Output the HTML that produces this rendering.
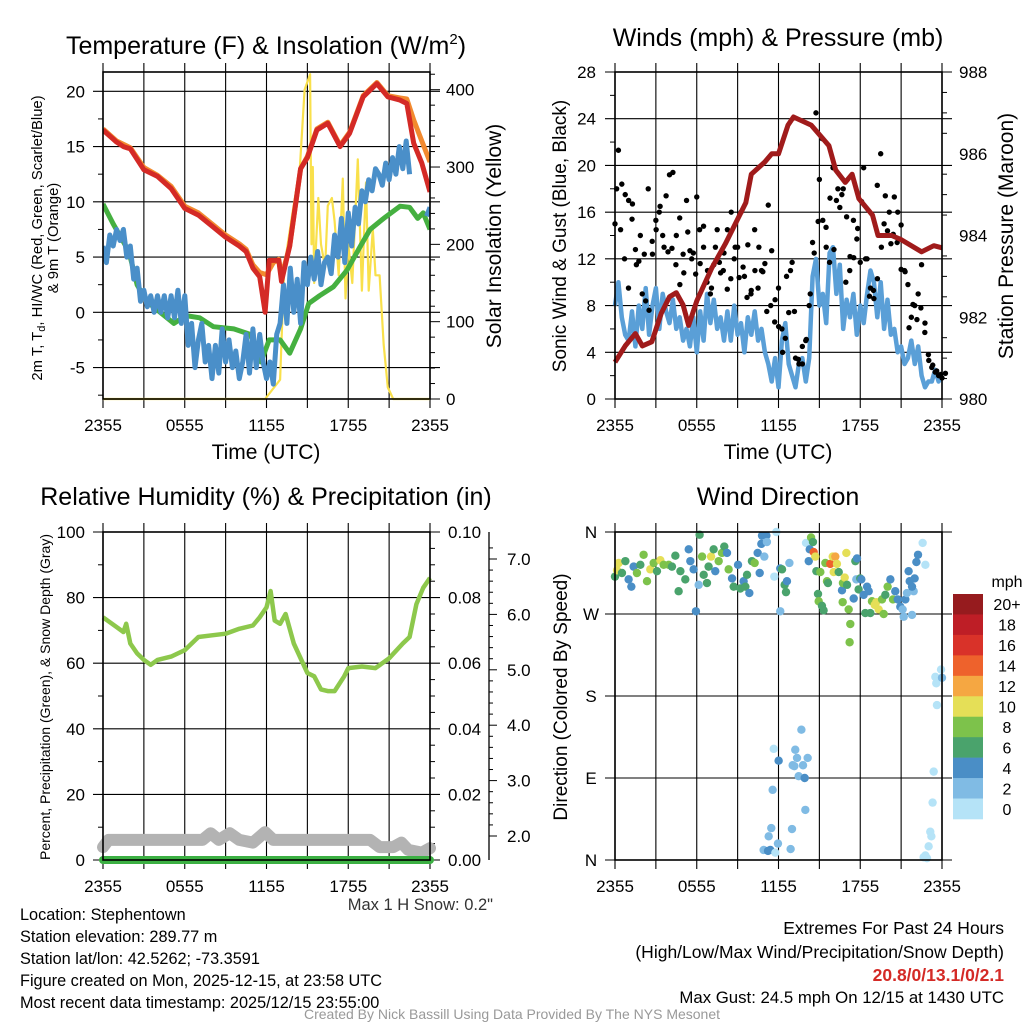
<!DOCTYPE html>
<html><head><meta charset="utf-8"><style>
html,body{margin:0;padding:0;background:#fff;}
svg text{font-family:"Liberation Sans",Arial,sans-serif;}
</style></head><body>
<svg id="chart" xmlns="http://www.w3.org/2000/svg" width="1024" height="1024" viewBox="0 0 1024 1024">
<rect x="0" y="0" width="1024" height="1024" fill="#fff"/>
<g id="layer"></g>
</svg>
<script>
// ===== DATA =====
const timeLabels = ["2355","0555","1155","1755","2355"];
// Panel 1: temperature
const redTimes = [0,1,1.5,2,3,4,5,6,7,8,9,10,10.5,11,11.5,11.8,11.9,12.2,12.9,13.1,13.7,14.5,15,15.7,16.5,17.4,18.1,19.1,20.1,20.9,21.8,22.3,22.8,23.4,24];
const redTemps = [16.5,15.4,15,14.8,12.9,12.3,11.2,9.4,8.8,7.8,6.8,6,5.5,4,3.2,0.8,0,4.7,4.7,2.8,6,13,14,16.5,17.1,15,16.2,19.5,20.7,19.5,19.2,18.9,15.3,13.5,10.9];
const orangeTimes = [0,1,2,3,4,5,6,7,8,9,10,10.5,11,11.5,12,12.5,12.9,13.1,13.7,14.5,15,15.7,16.5,17.4,18.1,19.1,20.1,20.9,21.8,22.3,22.8,23.4,24];
const orangeTemps = [16.6,15.5,14.9,13.1,12.4,11.4,9.6,9,8,7,6.2,5.7,4.3,3.6,3.4,4.5,4.8,3.2,6,13,14.1,16.6,17.2,15.1,16.3,19.6,20.8,19.6,19.4,19.3,17.4,15.5,13.6];
const greenTimes = [0,0.75,1.9,2.5,3.2,5.2,6.1,7.1,8.1,9.6,10.8,11.6,12.2,13,13.7,14.5,15.1,15.9,16.9,17.9,18.9,19.6,20.6,21.8,22.5,23.1,23.5,24];
const greenTemps = [9.8,8,5.5,2.5,1,-1,-0.3,-0.5,-1.3,-1.5,-2,-4.5,-2.5,-2.5,-3.7,-1.5,0.8,1.5,2.3,3.8,6,7.5,8.5,9.6,9.5,8.5,9,7.5];
const blueTemps = [6,4.5,7,6,7.5,6.5,7.5,5,6,3,4,1,2,0.5,1.5,0,1.5,0,1.5,-0.5,1.5,-0.5,2,-1,1.5,-3,-1,-5,-2.5,-1,-4.5,-3,-6,-3,-5.5,-1.5,-4.5,-2.5,-5,-3.5,-6,-4.5,-2,-5.5,-1.5,-5,-2,-4.5,-6,-4.5,-6.5,-2,-1,2.5,-1,4,0,3,-1,4.5,2.5,5,3,5.5,2.5,4.5,5,3.5,7,5,8.5,4.5,9,6,9.5,8,11,10,12,11,13,12.5,11.5,13.5,12,14,12.5,15,13,15.5,12.5,null,null,null,null,8.7,9.5];
const solarTimes = [0,11.9,13,13.3,13.9,14.45,14.8,15.2,15.3,15.4,15.5,15.8,16,16.3,16.5,16.8,17,17.3,17.6,17.8,18,18.3,18.7,19,19.3,19.5,19.8,20,20.3,20.6,20.9,21.3,24];
const solarValues = [0,0,25,170,240,300,400,420,200,300,150,260,200,170,250,260,230,160,285,130,200,150,310,140,280,140,220,160,160,70,15,0,0];
// Panel 2: winds & pressure
const pressTimes = [0,0.75,1.5,2,2.7,3.4,4,4.5,5,5.4,6,7.1,8.1,9.6,10,11,11.5,12,12.7,13.1,14.4,15.7,16.2,16.9,17.4,17.9,18.9,19.3,20.3,21,22.5,23.4,24];
const pressValues = [980.9,981.3,981.6,981.3,981.4,982.1,982.5,982.6,982.3,981.8,982.4,983.2,983.8,984.8,985.5,985.8,986,986,986.7,986.9,986.7,986.2,985.6,985.3,985.5,984.9,984.5,984,984,983.9,983.6,983.75,983.7];
const windValues = [8,10,7,5.5,5,7.5,4.5,8,6,9.5,5.5,8,9.5,6,9,7.5,6.5,8.5,6,7,5,6,4.5,7,4,7.5,5,9,6.5,8.5,6,7,5,7.5,5,8,5.5,6.5,4,7,5.5,7.5,5,6,4,3,1.5,3.5,1,5,6.5,3,2,1,3,3.5,1.5,3.5,10.5,12,8,9,6.5,12.5,13,9,11.5,6,8.5,7,9,5.5,8,6.5,9,11,10,7,10,6,8.5,5.5,6,4,4.5,3,3.5,5,3,4.5,2,1,1.5,1.5,2.5,1.5,2];
const gustValues = [15,21.3,18.4,17.5,17,15.4,12.8,11.8,9,8.4,7.6,12.4,15.3,16,14,17.4,19.2,19.4,14,15.5,12.4,17,12.7,12.5,17.3,11.6,14.8,10,9,11.5,14.5,10.8,12.5,14.5,10.3,12,13,16,10.5,13.2,9.3,14.5,9.5,11,11.6,16.6,12.7,8.5,9.5,6,5.2,7.4,11.7,3.5,3,3,5,8,13.4,24.5,18.8,15.3,13,11.7,19.8,17,16.4,18,15.6,12.2,15.3,13.7,11.7,19.8,12,9.5,8.6,18.3,21,15,14.4,13.3,17.3,16,14.9,11,9.8,7,8,9,11.5,6.5,3.8,2.7,2.3,2,1.8,2.2];
const gustValues2 = [18,14.5,12,9.5,16.7,11.5,14,12.4,18,13.5,14.5,16.5,13,12.6,12.9,11.5,9.8,10.8,14.3,12,10.7,14.5,13,11,9.5,13,11.7,11,9.4,16,13,10.4,11.3,8.7,9,11,13,10.9,7.5,8,6.6,6.2,4,10.5,11,7.5,3.4,4.5,5.1,9,12.5,15.2,22.3,14.7,17.2,12.8,18,17.5,10,11,12.1,14.6,16.9,12,8.8,9.3,10.3,13,17.4,16,14.1,13.4,11.1,10.9,6.1,8.1,6.8,7.8,5.7,3.3,2.9,2.4,2.1];
// Panel 3: RH, precip, snow depth
const rhTimes = [0,1,1.5,1.7,2,2.5,3,3.5,4,5,6,7,8,9,10,11,11.5,12,12.3,12.6,13,13.4,14,15,15.5,16,16.5,17,17.7,18,19,20,21,22,22.5,23,23.5,24];
const rhValues = [74,71,69.5,72,66,63,61,59.5,61,62,64,68,68.5,69,70.5,71.5,74,77,82,73,72,75,66,57,56,52,51.5,51.5,56,58.5,59,58.5,61.5,66,68,78,83,86];
const precipValues = [0,0];
const precipTimes = [0,24];
const snowTimes = [0,0.4,7.3,7.9,8.5,9.3,10,11,11.9,12.5,19.6,20.3,21.3,21.9,22.4,23.4,24];
const snowDepth = [1.8,1.93,1.93,2.05,1.93,2.05,1.93,1.88,2.07,1.93,1.93,1.8,1.8,1.88,1.75,1.7,1.78];
// Panel 4: wind direction
const dirTimes = [0,0.15,0.27,0.51,0.76,1.0,1.2,1.37,1.61,1.86,2.1,2.35,2.59,2.84,3.08,3.33,3.57,3.94,4.18,4.43,4.67,4.8,5.16,5.41,5.53,5.77,5.94,6.14,6.21,6.39,6.51,6.75,6.87,7.05,7.24,7.36,7.61,7.85,8.02,8.22,8.34,8.59,8.71,9.03,9.2,9.44,9.57,9.69,9.86,10.05,10.25,10.47,10.62,10.74,10.79,10.96,11.11,11.15,11.69,11.84,12.13,12.26,12.45,12.55,12.62,12.8,12.13,
11.65,12.01,11.57,11.47,11.28,10.91,11.23,11.4,11.77,11.96,12.99,12.89,13.04,13.23,13.36,13.48,13.68,13.8,13.92,13.97,14.14,13.16,
14.02,14.22,14.29,14.39,14.53,14.58,14.7,14.78,14.9,15.07,14.95,15.19,15.31,15.44,15.56,15.63,15.8,15.98,16.05,16.17,16.29,16.42,16.66,16.71,16.73,16.86,16.98,17.03,17.15,17.27,17.22,17.52,17.64,17.71,17.76,17.88,18.0,18.08,18.25,18.37,18.5,18.62,18.74,18.86,19.06,19.18,19.35,19.6,19.72,19.84,20.01,20.21,20.4,20.57,20.75,20.94,21.11,21.19,21.31,21.43,21.55,21.63,21.8,21.92,21.8,21.99,22.12,22.24,22.58,22.78,
23.39,23.31,23.14,23.22,23.02,22.78,22.65,22.9,23.63,23.51,23.58,23.93,24];
const dirValues = [311,318,326,315,328,308,300,322,315,324,335,306,319,326,317,329,324,324,322,334,295,317,308,341,328,319,273,302,357,333,313,304,322,333,341,317,328,337,344,337,319,309,300,324,298,306,300,313,293,328,326,337,315,347,356,333,356,349,311,360,320,319,302,294,306,326,273,
122,109,77,35,26,11,10,11,8,18,34,12,104,121,112,92,143,104,90,55,112,103,
348,328,341,354,349,338,333,317,292,316,284,279,274,326,306,304,325,333,316,333,325,316,296,283,304,310,337,302,275,259,239,287,328,308,331,297,309,308,291,271,300,295,271,284,280,283,275,286,270,291,300,308,286,295,286,278,275,267,286,293,317,306,269,295,300,309,327,335,348,324,
97,63,31,26,15,5,3,2,170,201,194,209,200];
const dirSpeeds = [7,11,11,7,7,5,5,5,9,7,9,9,11,9,7,11,9,9,7,7,7,7,7,5,5,5,5,3,7,9,7,7,7,11,7,5,9,9,7,5,9,5,7,5,7,5,7,7,5,7,9,5,5,5,5,3,5,3,1,1,5,7,7,7,5,3,3,
1,5,3,3,3,3,5,5,1,3,3,3,3,3,3,3,3,3,5,3,3,3,
1,5,5,9,7,15,11,7,7,9,9,7,7,9,9,7,15,11,11,13,11,7,5,9,9,11,11,7,9,9,9,5,7,3,5,7,7,5,5,7,5,5,7,9,11,11,11,9,9,7,9,5,9,5,5,5,3,3,5,3,5,5,3,3,5,5,5,5,1,1,
1,1,1,1,1,1,1,1,1,1,1,1,3];
const speedBinLabels = ["20+","18","16","14","12","10","8","6","4","2","0"];
const speedBinColors = ["#961b1e","#be1e26","#d93229","#ee622c","#f5a742","#e5df57","#7dc24b","#4aa36c","#4a8ec6","#80bbe4","#b5e3f7"];

// ===== DRAWING =====
const NS = "http://www.w3.org/2000/svg";
const layer = document.getElementById('layer');
const TICK = 17;
function el(tag, attrs, parent) {
  const e = document.createElementNS(NS, tag);
  for (const k in attrs) e.setAttribute(k, attrs[k]);
  (parent || layer).appendChild(e);
  return e;
}
function txt(str, x, y, size, anchor, parent, extra) {
  const t = el('text', Object.assign({x: x, y: y, 'font-size': size, 'text-anchor': anchor || 'middle', fill: '#000'}, extra || {}), parent);
  t.textContent = str;
  return t;
}
function lin(d0, d1, r0, r1) { return v => r0 + (v - d0) * (r1 - r0) / (d1 - d0); }
function pathFrom(xs, ys, xS, yS) {
  let d = '', pen = false;
  for (let i = 0; i < xs.length; i++) {
    if (ys[i] === null) { pen = false; continue; }
    d += (pen ? 'L' : 'M') + xS(xs[i]).toFixed(1) + ' ' + yS(ys[i]).toFixed(1);
    pen = true;
  }
  return d;
}
function quarterTimes(n) { const a = []; for (let i = 0; i < n; i++) a.push(i * 0.25); return a; }

function panelFrame(g, p) {
  for (let h = 0; h <= 24; h += 3) {
    const x = p.xS(h);
    const l = el('line', {x1: x, x2: x, y1: p.y0 - 9, y2: p.y1 + 9, stroke: '#000', 'stroke-width': 1.1}, g);
    
    
  }
  timeLabels.forEach((s, i) => {
    const t = txt(s, p.xS(i * 6), p.y1 + 32, TICK, 'middle', g);
    
    
  });
}
function hGrid(g, p, y) {
  el('line', {x1: p.x0 - 10, x2: p.x1 + 10, y1: y, y2: y, stroke: '#000', 'stroke-width': 1.1}, g);
}
function frameBox(g, p) {
  const r = el('rect', {x: p.x0, y: p.y0, width: p.x1 - p.x0, height: p.y1 - p.y0, fill: 'none', stroke: '#000', 'stroke-width': 1.6}, g);
  
  
}
function tickMarks(g, x, y, dir, len) {
  el('line', {x1: x, x2: x + dir * len, y1: y, y2: y, stroke: '#000', 'stroke-width': 1}, g);
}

// ---------- Panel 1 ----------
(function () {
  const g = el('g', {});
  
  
  const p = {x0: 103, x1: 430, y0: 72, y1: 399};
  p.xS = lin(0, 24, p.x0, p.x1);
  const yT = lin(0, 20, 312.3, 91.3);
  const yS = lin(0, 400, 399, 89.7);
  panelFrame(g, p);
  [-5, 0, 5, 10, 15, 20].forEach(v => {
    hGrid(g, p, yT(v));
    const t = txt(String(v), 85, yT(v) + 6, TICK, 'end', g);
    
    
  });
  for (let v = -7.5; v <= 21; v += 2.5) if (v % 5 !== 0) tickMarks(g, p.x0, yT(v), -1, 5);
  [0, 100, 200, 300, 400].forEach(v => {
    tickMarks(g, p.x1, yS(v), 1, 10);
    const t = txt(String(v), 446, yS(v) + 6, TICK, 'start', g);
    
    
  });
  for (let v = 20; v <= 420; v += 20) if (v % 100) tickMarks(g, p.x1, yS(v), 1, 5);
  const clip = el('clipPath', {id: 'c1'}, g);
  el('rect', {x: p.x0, y: p.y0 - 4, width: p.x1 - p.x0, height: p.y1 - p.y0 + 8}, clip);
  const s = el('g', {'clip-path': 'url(#c1)'}, g);
  let e;
  e = el('path', {d: pathFrom(solarTimes, solarValues, p.xS, yS), fill: 'none', stroke: '#f9e04b', 'stroke-width': 2.2, 'stroke-linejoin': 'round'}, s);
   
  e = el('path', {d: pathFrom(greenTimes, greenTemps, p.xS, yT), fill: 'none', stroke: '#45b040', 'stroke-width': 5, 'stroke-linejoin': 'round'}, s);
   
  e = el('path', {d: pathFrom(quarterTimes(blueTemps.length), blueTemps, p.xS, yT), fill: 'none', stroke: '#4a8fc9', 'stroke-width': 5, 'stroke-linejoin': 'round'}, s);
   
  e = el('path', {d: pathFrom(orangeTimes, orangeTemps, p.xS, yT), fill: 'none', stroke: '#f28a2f', 'stroke-width': 5, 'stroke-linejoin': 'round'}, s);
   
  e = el('path', {d: pathFrom(redTimes, redTemps, p.xS, yT), fill: 'none', stroke: '#d42a26', 'stroke-width': 5, 'stroke-linejoin': 'round'}, s);
   
  frameBox(g, p);
  e = el('text', {x: 266, y: 54, 'font-size': 25, 'text-anchor': 'middle', fill: '#000'}, g);
  e.innerHTML = 'Temperature (F) &amp; Insolation (W/m<tspan dy="-10" font-size="15">2</tspan><tspan dy="10">)</tspan>';
   
  e = txt('Time (UTC)', 266, 459, 21, 'middle', g);
   
  e = el('text', {x: 0, y: 0, 'font-size': 14.8, 'text-anchor': 'middle', fill: '#000', transform: 'translate(42,238) rotate(-90)'}, g);
  e.innerHTML = '2m T, T<tspan dy="3" font-size="11">d</tspan><tspan dy="-3">, HI/WC (Red, Green, Scarlet/Blue)</tspan>';
   
  e = txt('& 9m T (Orange)', 0, 0, 14.8, 'middle', g, {transform: 'translate(58,238) rotate(-90)'});
   
  e = txt('Solar Insolation (Yellow)', 0, 0, 21, 'middle', g, {transform: 'translate(501,236) rotate(-90)'});
   
})();

// ---------- Panel 2 ----------
(function () {
  const g = el('g', {});
  
  
  const p = {x0: 615, x1: 942, y0: 72, y1: 399};
  p.xS = lin(0, 24, p.x0, p.x1);
  const yW = lin(0, 28, 399, 72);
  const yP = lin(980, 988, 399, 72);
  panelFrame(g, p);
  [0, 4, 8, 12, 16, 20, 24, 28].forEach(v => {
    hGrid(g, p, yW(v));
    const t = txt(String(v), 596, yW(v) + 6, TICK, 'end', g);
    
    
  });
  for (let v = 2; v < 28; v += 4) tickMarks(g, p.x0, yW(v), -1, 5);
  [980, 982, 984, 986, 988].forEach(v => {
    const t = txt(String(v), 959, yP(v) + 6, TICK, 'start', g);
    
    
  });
  for (let v = 980.5; v < 988; v += 0.5) if (v % 2) tickMarks(g, p.x1, yP(v), 1, 5);
  const qt = quarterTimes(windValues.length);
  let e = el('path', {d: pathFrom(qt, windValues, p.xS, yW), fill: 'none', stroke: '#5a9fd7', 'stroke-width': 4.5, 'stroke-linejoin': 'round'}, g);
   
  gustValues.forEach((v, i) => {
    const c = el('circle', {cx: p.xS(i * 0.25), cy: yW(v), r: 2.7, fill: '#000'}, g);
    
    
  });
  gustValues2.forEach((v, i) => {
    const c = el('circle', {cx: p.xS(0.12 + i * 0.29), cy: yW(v), r: 2.7, fill: '#000'}, g);
    
    
  });
  e = el('path', {d: pathFrom(pressTimes, pressValues, p.xS, yP), fill: 'none', stroke: '#a01b1b', 'stroke-width': 5, 'stroke-linejoin': 'round'}, g);
   
  frameBox(g, p);
  e = txt('Winds (mph) & Pressure (mb)', 778, 46, 25, 'middle', g);
   
  e = txt('Time (UTC)', 778, 459, 21, 'middle', g);
   
  e = txt('Sonic Wind & Gust (Blue, Black)', 0, 0, 19, 'middle', g, {transform: 'translate(566,236) rotate(-90)'});
   
  e = txt('Station Pressure (Maroon)', 0, 0, 21, 'middle', g, {transform: 'translate(1013,236) rotate(-90)'});
   
})();

// ---------- Panel 3 ----------
(function () {
  const g = el('g', {});
  
  
  const p = {x0: 103, x1: 430, y0: 532, y1: 860};
  p.xS = lin(0, 24, p.x0, p.x1);
  const yR = lin(0, 100, 860, 532);
  const yPr = lin(0, 0.1, 860, 532);
  const ySn = lin(2, 7, 836, 559);
  panelFrame(g, p);
  [0, 20, 40, 60, 80, 100].forEach(v => {
    hGrid(g, p, yR(v));
    const t = txt(String(v), 85, yR(v) + 6, TICK, 'end', g);
    
    
  });
  for (let v = 10; v < 100; v += 20) tickMarks(g, p.x0, yR(v), -1, 5);
  [0, 0.02, 0.04, 0.06, 0.08, 0.1].forEach(v => {
    const t = txt(v.toFixed(2), 448, yPr(v) + 6, TICK, 'start', g);
    
    
  });
  for (let v = 0.005; v < 0.1; v += 0.005) if (Math.round(v * 1000) % 20) tickMarks(g, p.x1, yPr(v), 1, 5);
  let e = el('line', {x1: 489, x2: 489, y1: 532, y2: 860, stroke: '#000', 'stroke-width': 1.3}, g);
   
  [2, 3, 4, 5, 6, 7].forEach(v => {
    tickMarks(g, 489, ySn(v), 1, 8);
    const t = txt(v.toFixed(1), 507, ySn(v) + 6, TICK, 'start', g);
    
    
  });
  for (let v = 2.2; v < 7.4; v += 0.2) if (Math.abs(v - Math.round(v)) > 0.05) tickMarks(g, 489, ySn(v), 1, 4);
  e = el('path', {d: pathFrom(snowTimes, snowDepth, p.xS, ySn), fill: 'none', stroke: '#b3b3b3', 'stroke-width': 12, 'stroke-linejoin': 'round', 'stroke-linecap': 'round'}, g);
   
  e = el('path', {d: pathFrom(precipTimes, precipValues, p.xS, yPr), fill: 'none', stroke: '#3cb043', 'stroke-width': 8, 'stroke-linecap': 'round'}, g);
   
  e = el('path', {d: pathFrom(rhTimes, rhValues, p.xS, yR), fill: 'none', stroke: '#8dc84c', 'stroke-width': 4.5, 'stroke-linejoin': 'round'}, g);
   
  frameBox(g, p);
  e = txt('Relative Humidity (%) & Precipitation (in)', 266, 505, 25, 'middle', g);
   
  e = txt('Percent, Precipitation (Green), & Snow Depth (Gray)', 0, 0, 14, 'middle', g, {transform: 'translate(50,697) rotate(-90)'});
   
})();

// ---------- Panel 4 ----------
(function () {
  const g = el('g', {});
  
  
  const p = {x0: 615, x1: 942, y0: 532, y1: 860};
  p.xS = lin(0, 24, p.x0, p.x1);
  const yD = lin(0, 360, 860, 532);
  panelFrame(g, p);
  [['N', 0], ['E', 90], ['S', 180], ['W', 270], ['N', 360]].forEach(a => {
    hGrid(g, p, yD(a[1]));
    const t = txt(a[0], 591, yD(a[1]) + 6, TICK, 'middle', g);
    
    
  });
  function binColor(s) {
    const idx = Math.min(10, Math.floor(s / 2));
    return speedBinColors[10 - idx];
  }
  dirTimes.forEach((t, i) => {
    const c = el('circle', {cx: p.xS(t), cy: yD(dirValues[i]), r: 4.2, fill: binColor(dirSpeeds[i])}, g);
    
    
  });
  frameBox(g, p);
  let e = txt('Wind Direction', 778, 505, 25, 'middle', g);
   
  e = txt('Direction (Colored By Speed)', 0, 0, 19, 'middle', g, {transform: 'translate(567,697) rotate(-90)'});
   
  const cb = el('g', {}, g);
  
  
  const bh = (819 - 594) / speedBinLabels.length;
  speedBinLabels.forEach((lab, i) => {
    const r = el('rect', {x: 953, y: 594 + i * bh, width: 30, height: bh + 0.3, fill: speedBinColors[i]}, cb);
    
    
    const t = txt(lab, 1007, 594 + i * bh + bh / 2 + 6, 16, 'middle', cb);
    
    
  });
  e = txt('mph', 1007, 587, 16, 'middle', cb);
   
})();

// ---------- Footer text ----------
(function () {
  const g = el('g', {});
  
  
  const left = ['Location: Stephentown', 'Station elevation: 289.77 m', 'Station lat/lon: 42.5262; -73.3591', 'Figure created on Mon, 2025-12-15, at 23:58 UTC', 'Most recent data timestamp: 2025/12/15 23:55:00'];
  left.forEach((s, i) => {
    const t = txt(s, 20, 920 + i * 22, 16.3, 'start', g);
    
    
  });
  let e = txt('Max 1 H Snow: 0.2"', 493, 910, 16.5, 'end', g, {fill: '#333'});
   
  e = txt('Extremes For Past 24 Hours', 1004, 934, 17.5, 'end', g);
   
  e = txt('(High/Low/Max Wind/Precipitation/Snow Depth)', 1004, 958, 17.5, 'end', g);
   
  e = txt('20.8/0/13.1/0/2.1', 1004, 981, 17.5, 'end', g, {'font-weight': 'bold', fill: '#d42a26'});
   
  e = txt('Max Gust: 24.5 mph On 12/15 at 1430 UTC', 1004, 1003, 16.8, 'end', g);
   
  e = txt('Created By Nick Bassill Using Data Provided By The NYS Mesonet', 512, 1019, 14, 'middle', g, {fill: '#999'});
   
})();
</script>
</body></html>
